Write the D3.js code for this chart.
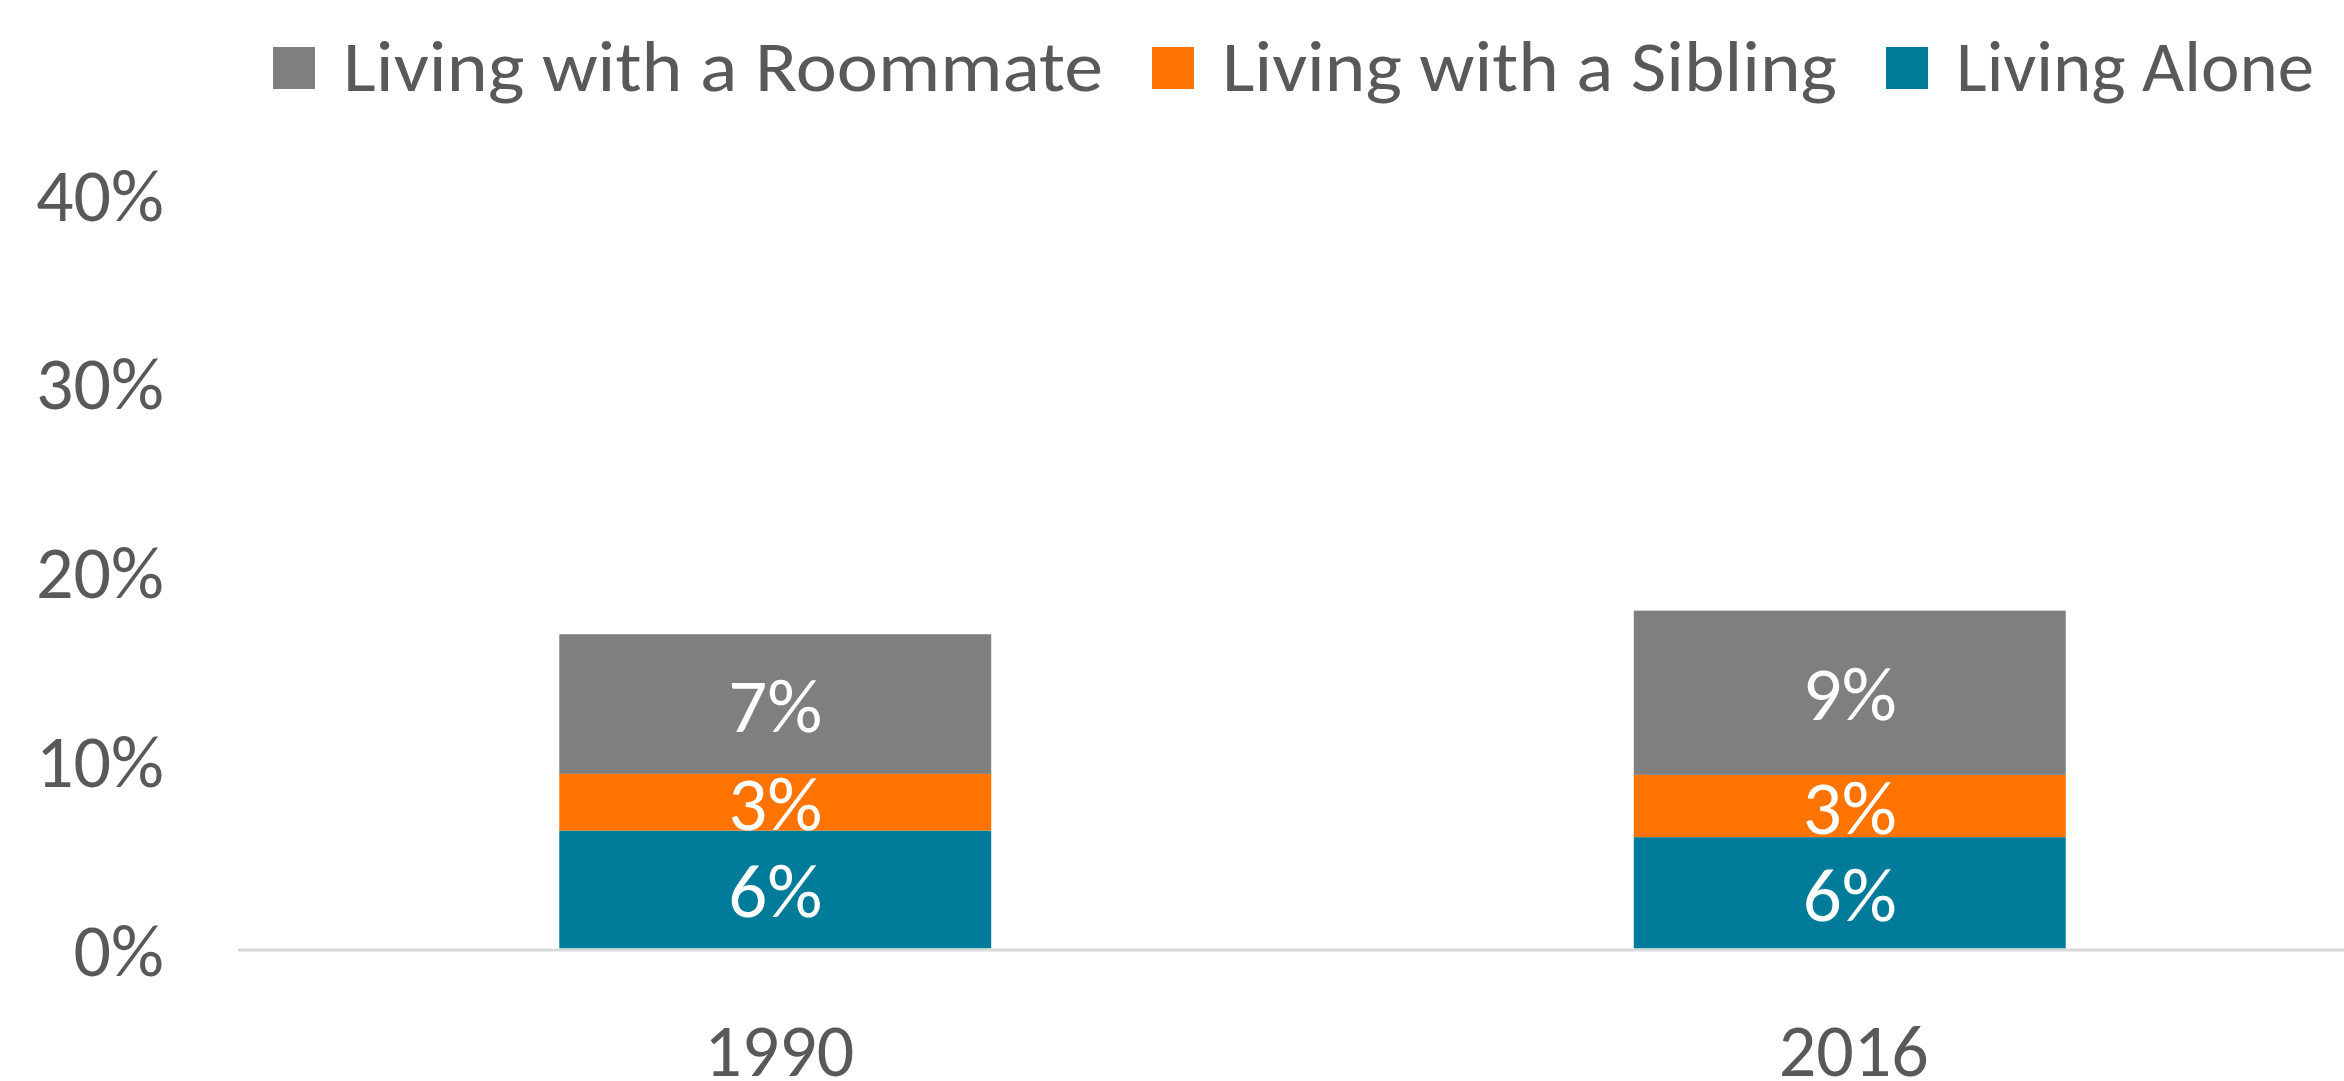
<!DOCTYPE html>
<html>
<head>
<meta charset="utf-8">
<script src="https://cdnjs.cloudflare.com/ajax/libs/d3/7.8.5/d3.min.js"></script>
<style>
  html, body { margin: 0; padding: 0; background: #fff; }
  svg { display: block; font-family: Carlito, Calibri, Lato, sans-serif; }
</style>
</head>
<body>
<svg id="chart" width="2344" height="1081"></svg>
<script>
// values in percent
const years = ['1990', '2016']
const alone = [6.25, 5.9]
const sibling = [3.0, 3.3]
const roommate = [7.4, 8.7]
const yTicks = [0, 10, 20, 30, 40]

const seriesNames = ['Living with a Roommate', 'Living with a Sibling', 'Living Alone']
const seriesKeys = ['alone', 'sibling', 'roommate']

let svg = d3.select('#chart')
let width = 2344, height = 1081

let color = d3.scaleOrdinal()
  .domain(['roommate', 'sibling', 'alone'])
  .range(['#7f7f7f', '#ff7400', '#007c9a'])

let rows = years.map((y, i) => ({ year: y, alone: alone[i], sibling: sibling[i], roommate: roommate[i] }))
let stacked = d3.stack().keys(seriesKeys)(rows)

let x = d3.scaleBand()
  .domain(years)
  .range([238, 2387])
  .paddingInner(0.598)
  .paddingOuter(0.299)

let y = d3.scaleLinear()
  .domain([0, 40])
  .range([948.5, 193.5])

// y axis labels (no line, no ticks)
let yAxis = d3.axisLeft(y).tickValues(yTicks).tickSize(0).tickPadding(0).tickFormat(d => d + '%')
svg.append('g')
  .attr('transform', 'translate(164,0)')
  .call(yAxis)
  .call(g => g.select('.domain').remove())
  .attr('font-family', null)
  .attr('font-size', 74)
  .selectAll('text')
  .attr('fill', '#595959')
  .attr('dy', '0.36em')

// bars
let layer = svg.append('g').selectAll('g')
  .data(stacked)
  .join('g')
  .attr('fill', d => color(d.key))

layer.selectAll('rect')
  .data(d => d)
  .join('rect')
  .attr('x', d => x(d.data.year))
  .attr('width', x.bandwidth())
  .attr('y', d => y(d[1]))
  .attr('height', d => y(d[0]) - y(d[1]))

// value labels
layer.selectAll('text')
  .data(d => d)
  .join('text')
  .attr('x', d => x(d.data.year) + x.bandwidth() / 2)
  .attr('y', d => (y(d[0]) + y(d[1])) / 2)
  .attr('dy', '0.36em')
  .attr('text-anchor', 'middle')
  .attr('fill', '#fff')
  .attr('font-size', 77)
  .text(d => Math.round(d[1] - d[0]) + '%')

// x axis
let xAxis = d3.axisBottom(x).tickSize(0).tickPadding(0)
svg.append('g')
  .attr('transform', `translate(4,${y(0)})`)
  .call(xAxis)
  .call(g => g.select('.domain').remove())
  .attr('font-family', null)
  .attr('font-size', 74)
  .selectAll('text')
  .attr('fill', '#595959')
  .attr('dy', null)
  .attr('y', 127)

svg.append('line')
  .attr('x1', 238).attr('x2', width)
  .attr('y1', y(0) + 1.5).attr('y2', y(0) + 1.5)
  .attr('stroke', '#d9d9d9')
  .attr('stroke-width', 3)

// legend
let legendKeys = ['roommate', 'sibling', 'alone']
let legendWidths = [760, 615, 358]
let lx = 273
legendKeys.forEach((k, i) => {
  let g = svg.append('g').attr('transform', `translate(${lx},47)`)
  g.append('rect').attr('width', 42).attr('height', 42).attr('fill', color(k))
  g.append('text')
    .attr('x', 70).attr('y', 44)
    .attr('fill', '#595959')
    .attr('font-size', 72)
    .attr('textLength', legendWidths[i])
    .attr('lengthAdjust', 'spacingAndGlyphs')
    .text(seriesNames[i])
  lx += 70 + legendWidths[i] + 49
})
</script>
</body>
</html>
